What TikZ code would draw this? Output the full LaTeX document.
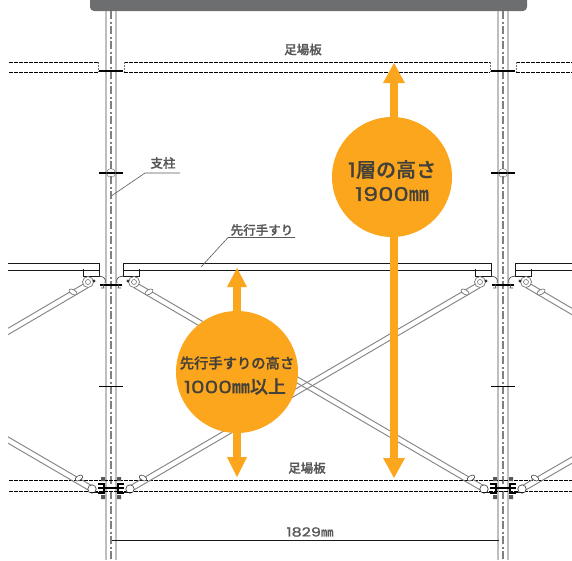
\documentclass[tikz,border=0pt]{standalone}
\usepackage{fontspec}
\newfontfamily\cjk{Noto Sans CJK JP Medium}[FakeBold=0.9]
\newfontfamily\num{Poppins}[FakeStretch=1.28,FakeBold=1.1]
\definecolor{ora}{HTML}{FBA61C}
\definecolor{bar}{HTML}{6D6E70}
\definecolor{txt}{HTML}{58585A}
\definecolor{brace}{HTML}{858585}
\definecolor{ink}{HTML}{44403A}
\tikzset{
  x=1pt,y=-1pt,
  pole/.style={draw=black!25,line width=2pt},
  polec/.style={draw=black!50,line width=1.1pt,dash pattern=on 8pt off 2.5pt on 2pt off 2.5pt},
  deck/.style={draw=black,line width=.7pt,dash pattern=on 3.6pt off 1.4pt},
  solidl/.style={draw=black!90,line width=.8pt},
  bline/.style={draw=brace,line width=.95pt},
  label/.style={font=\cjk\fontsize{12.5pt}{14pt}\selectfont,text=txt,inner sep=0pt},
  lead/.style={draw=black!65,line width=.6pt},
  big/.style={circle,fill=ora,inner sep=0pt,minimum size=120pt,align=center,text=ink},
  bigtext/.style={inner sep=0pt,text=ink},
  shaft/.style={draw=ora,line width=8pt},
  head/.style={fill=ora,draw=none},
  tick/.style={draw=black,line width=1.1pt},
}
\newcommand{\bracearm}[2]{%
  \path[bline] (0,-3.2) -- ++(#1,#2);
  \path[bline] (0,3.2) -- ++(#1,#2);}
% joints: origin on the pole axis, drawn toward +x, mirrored with xscale=-1
\newcommand{\upperjoint}{%
  \draw[solidl] (12,-21) -- (12,-8) -- (28,-8) -- (28,-15);
  \draw[black!70,line width=.7pt] (12,-8) .. controls (6,-7) and (5,-5) .. (6,-1);
  \draw[black!70,line width=.7pt] (8,0) -- (7,4) -- (10,4);
  \draw[draw=black!55,line width=.7pt,fill=white] (23,-2) circle (5.5pt);
  \draw[draw=black!55,line width=.6pt] (23,-2) circle (2.5pt);
  \fill[black!80] (17,-3) circle (1.6pt);
  \draw[draw=black!60,line width=.6pt,fill=white,rotate around={30:(38,8)}] (38,8) ellipse (4.5pt and 2.4pt);
}
\newcommand{\lowerjoint}{%
  \draw[draw=black!70,line width=.7pt,fill=white] (19,1) circle (4.2pt);
  \draw[draw=black,line width=2.4pt] (13,-4) -- (7,-4) -- (7,5) -- (13,5);
  \draw[draw=black,line width=1.5pt] (7,0) -- (13,0);
  \draw[draw=black!70,line width=.6pt,fill=white,rotate around={-30:(32,-10)}] (32,-10) ellipse (4.2pt and 2.4pt);
  \fill[black!65] (6,-7) rectangle (10,-11) (6,7) rectangle (10,11);
  \draw[solidl] (13,4) -- (21,4);
}
\begin{document}
\begin{tikzpicture}
\useasboundingbox (0,0) rectangle (572,560);
% top bar
\fill[bar,rounded corners=4pt] (90,-8) rectangle (527,11);
% poles
\foreach \c in {111,503}{
  \draw[pole] (\c-5.3,11) -- (\c-5.3,560);
  \draw[pole] (\c+5,11) -- (\c+5,560);
  \draw[polec] (\c,11) -- (\c,560);
}
% upper deck
\foreach \y in {62,72}{
  \draw[deck] (9,\y) -- (98,\y);
  \draw[deck] (124,\y) -- (490,\y);
  \draw[deck] (516,\y) -- (572,\y);
}
\foreach \x in {98,124,490,516}{\draw[black!55,line width=.6pt,dash pattern=on 2pt off 1pt] (\x,62) -- (\x,72);}
% ticks on poles
\foreach \c in {111,503}{
  \draw[tick] (\c-12,71) -- (\c+12,71);
  \draw[tick] (\c-12,173) -- (\c+12,173);
  \draw[tick] (\c-12,386.5) -- (\c+12,386.5);
  \draw[tick] (\c-11,285) -- (\c+11,285);
  \draw[black!60,line width=.4pt] (\c,173) circle (4.5pt);
}
% handrail
\foreach \y in {263.5,270}{
  \draw[solidl] (8,\y) -- (99,\y);
  \draw[solidl] (123,\y) -- (491,\y);
  \draw[solidl] (515,\y) -- (572,\y);
}
% lower deck
\foreach \y in {480.7,491.7}{
  \draw[deck] (9,\y) -- (572,\y);
}
% braces
\begin{scope}[shift={(134,284.5)}]\bracearm{350}{204.5}\end{scope}
\begin{scope}[shift={(480,284.5)}]\bracearm{-350}{204.5}\end{scope}
\begin{scope}[shift={(88,284.5)}]\bracearm{-80}{47}\end{scope}
\begin{scope}[shift={(526,284.5)}]\bracearm{46}{27}\end{scope}
\begin{scope}[shift={(92,489)}]\bracearm{-84}{-49}\end{scope}
\begin{scope}[shift={(522,489)}]\bracearm{50}{-29}\end{scope}
% joints
\foreach \c in {111,503}{
  \begin{scope}[shift={(\c,284)}]\upperjoint\end{scope}
  \begin{scope}[shift={(\c,284)},xscale=-1]\upperjoint\end{scope}
  \begin{scope}[shift={(\c,488)}]\lowerjoint\end{scope}
  \begin{scope}[shift={(\c,488)},xscale=-1]\lowerjoint\end{scope}
  \draw[draw=black,line width=1.5pt] (\c-7,488) -- (\c+7,488);
}
% dimension
\coordinate (dimL) at (112,540);
\coordinate (dimR) at (499,540);
\draw[solidl] (dimL) -- (dimR);
\node[label] (d1829) at (310,532) {\num 1829\cjk ㎜};
% labels
\node[label] (deckA) at (303,49.5) {足場板};
\node[label] (deckB) at (307,468) {足場板};
\node[label] (post) at (163,163) {支柱};
\coordinate (postU) at (145,173);
\coordinate (postE) at (180,173);
\coordinate (postT) at (112,195.5);
\draw[lead] (postE) -- (postU) -- (postT);
\node[label] (rail) at (262,230) {先行手すり};
\coordinate (railU) at (228,237.5);
\coordinate (railE) at (295,237.5);
\coordinate (railT) at (201,267);
\draw[lead] (railE) -- (railU) -- (railT);
% orange arrows
\coordinate (tipA) at (394,63);
\coordinate (tipB) at (394,478);
\coordinate (tipC) at (237,268);
\coordinate (tipD) at (237,477);
\draw[shaft] (394,75) -- (394,465);
\fill[head] (tipA) -- (405,83) -- (383,83) -- cycle;
\fill[head] (tipB) -- (405,458) -- (383,458) -- cycle;
\draw[shaft] (237,280) -- (237,465);
\fill[head] (tipC) -- (247,287) -- (227,287) -- cycle;
\fill[head] (tipD) -- (247,457) -- (227,457) -- cycle;
\node[big] (c1) at (392,177) {};
\node[big,minimum size=122pt] (c2) at (237,372) {};
\node[bigtext,font=\cjk\fontsize{20pt}{24pt}\selectfont] (c1a) at (392,169.5) {{\num 1}層の高さ};
\node[bigtext] (c1b) at (392,194) {\fontsize{19pt}{24pt}\selectfont\num 1900\fontsize{20pt}{24pt}\selectfont\cjk ㎜};
\node[bigtext,font=\cjk\fontsize{14.3pt}{18pt}\selectfont] (c2a) at (237,363) {先行手すりの高さ};
\node[bigtext] (c2b) at (235,386.5) {\fontsize{17pt}{20pt}\selectfont\num 1000\fontsize{18pt}{20pt}\selectfont\cjk ㎜以上};
\end{tikzpicture}
\end{document}
